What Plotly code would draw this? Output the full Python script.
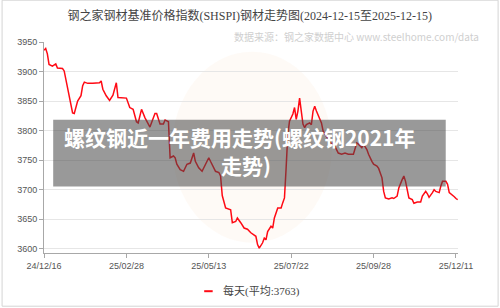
import plotly.graph_objects as go

# ---------------- data ----------------
# trading-day index (0 = 24/12/16) and daily price index values
trading_day = [0, 1, 2, 3, 5, 7, 8, 11, 12, 14, 16, 17, 18, 19, 20, 22, 23, 24, 26, 29,
               33, 34, 35, 37, 39, 41, 43, 44, 46, 49, 51, 53, 55, 56, 58, 60, 63, 66, 67, 69,
               71, 72, 74, 75, 77, 78, 79, 81, 83, 84, 85, 87, 89, 90, 91, 92, 94, 96, 98, 99,
               100, 102, 104, 105, 106, 108, 111, 112, 114, 115, 117, 119, 121, 123, 126, 127, 128, 130, 131, 132,
               133, 135, 136, 137, 139, 141, 142, 143, 144, 145, 146, 148, 149, 150, 151, 152, 153, 154, 155, 156,
               158, 159, 160, 161, 162, 164, 165, 166, 168, 169, 171, 172, 175, 177, 179, 181, 184, 186, 187, 189,
               190, 192, 193, 195, 196, 198, 199, 201, 202, 203, 205, 207, 208, 210, 211, 213, 214, 215, 216, 217,
               219, 220, 222, 224, 225, 227, 228, 229, 231, 232, 233, 235, 236, 237, 239, 240, 241, 242, 244, 245,
               246]
price = [3936, 3939, 3930, 3912, 3909, 3913, 3906, 3905, 3901, 3873, 3845, 3830, 3829, 3841, 3850, 3859, 3876, 3882, 3880, 3880,
         3881, 3884, 3870, 3859, 3851, 3860, 3881, 3856, 3856, 3855, 3839, 3836, 3815, 3813, 3836, 3822, 3806, 3829, 3829, 3811,
         3811, 3818, 3815, 3754, 3757, 3754, 3743, 3734, 3731, 3737, 3743, 3745, 3762, 3748, 3743, 3737, 3731, 3743, 3754, 3748,
         3743, 3731, 3729, 3723, 3690, 3669, 3666, 3644, 3646, 3652, 3644, 3635, 3633, 3627, 3621, 3607, 3601, 3610, 3618, 3615,
         3629, 3638, 3635, 3652, 3669, 3669, 3678, 3686, 3737, 3794, 3816, 3828, 3839, 3819, 3833, 3855, 3833, 3811, 3805, 3810,
         3813, 3810, 3833, 3841, 3833, 3819, 3813, 3799, 3791, 3785, 3777, 3779, 3762, 3760, 3762, 3760, 3760, 3779, 3777, 3771,
         3777, 3768, 3760, 3748, 3743, 3740, 3736, 3720, 3697, 3686, 3684, 3686, 3685, 3689, 3703, 3717, 3723, 3714, 3700, 3686,
         3683, 3677, 3679, 3679, 3689, 3697, 3693, 3687, 3695, 3700, 3697, 3695, 3706, 3714, 3714, 3709, 3695, 3693, 3688, 3685,
         3683]

tick_days = [0, 49, 98, 147, 196, 245]
tick_labels = ["24/12/16", "25/02/28", "25/05/13", "25/07/22", "25/09/28", "25/12/11"]
y_ticks = [3600, 3650, 3700, 3750, 3800, 3850, 3900, 3950]

series_name = "每天(平均:3763)"
chart_title = "钢之家钢材基准价格指数(SHSPI)钢材走势图(2024-12-15至2025-12-15)"
source_text = "数据来源：钢之家数据中心 www.steelhome.com/data"
banner_line1 = "螺纹钢近一年费用走势(螺纹钢2021年"
banner_line2 = "走势)"

# ---------------- layout helpers ----------------
W, H = 500, 308
L, R, T, B = 43.5, 41.7, 42.3, 54.7
pw = W - L - R
ph = H - T - B


def px(x):
    return (x - L) / pw


def py(y):
    return (H - B - y) / ph


serif = "Liberation Serif, Noto Sans CJK SC, serif"
sans = "Liberation Sans, Arial, sans-serif"
cjk_bold = "Noto Sans CJK SC, sans-serif"

fig = go.Figure()
fig.add_trace(go.Scatter(
    x=trading_day, y=price, mode="lines", name=series_name,
    line=dict(color="rgb(255,10,20)", width=1.5), showlegend=False,
    hoverinfo="skip",
))

fig.update_layout(
    width=W, height=H,
    margin=dict(l=L, r=R, t=T, b=B, pad=0),
    paper_bgcolor="white", plot_bgcolor="rgba(0,0,0,0)",
    title=dict(text=chart_title, x=0.497, xanchor="center", xref="paper",
               y=1 - 15.7 / H, yanchor="middle", yref="container",
               font=dict(family=serif, size=12, color="#444")),
    xaxis=dict(range=[0, 246.2], tickmode="array", tickvals=tick_days, ticktext=tick_labels,
               showgrid=False, zeroline=False, showline=True, linecolor="#a8a8a8", linewidth=1,
               ticks="outside", ticklen=4, tickcolor="#a8a8a8",
               tickfont=dict(family=sans, size=9, color="#555")),
    yaxis=dict(range=[3592.7, 3950], tickmode="array", tickvals=y_ticks,
               showgrid=True, gridcolor="#e6e6e6", gridwidth=1, zeroline=False,
               showline=True, linecolor="#a8a8a8", linewidth=1,
               ticks="outside", ticklen=4, tickcolor="#a8a8a8",
               tickfont=dict(family=sans, size=9, color="#555")),
    font=dict(family=sans),
)

shapes = [
    # faint watermark logo
    dict(type="circle", xref="paper", yref="paper", layer="below",
         x0=px(172), x1=px(332), y0=py(243), y1=py(52),
         fillcolor="rgba(248,205,165,0.10)", line=dict(width=0)),
    # outer frame
    dict(type="rect", xref="paper", yref="paper", layer="above",
         x0=px(1.5), x1=px(498.5), y0=py(306.5), y1=py(0.5),
         line=dict(color="#d4d4d4", width=1), fillcolor="rgba(0,0,0,0)"),
    # overlay banner
    dict(type="rect", xref="paper", yref="paper", layer="above",
         x0=px(52.7), x1=px(446), y0=py(186.7), y1=py(120),
         fillcolor="rgba(70,70,70,0.55)", line=dict(width=0)),
    # legend sample line
    dict(type="line", xref="paper", yref="paper", layer="above",
         x0=px(204), x1=px(212.5), y0=py(291.5), y1=py(291.5),
         line=dict(color="rgb(255,10,20)", width=2)),
]

annotations = [
    dict(text=source_text, xref="paper", yref="paper", x=px(481), y=py(36.7),
         xanchor="right", yanchor="middle", showarrow=False,
         font=dict(family="Noto Sans CJK SC, sans-serif", size=10, color="#cfcfcf")),
    dict(text=series_name, xref="paper", yref="paper", x=px(221), y=py(291.3),
         xanchor="left", yanchor="middle", showarrow=False,
         font=dict(family=serif, size=11, color="#444")),
    dict(text="<b>" + banner_line1 + "</b>", xref="paper", yref="paper", x=px(239.5), y=py(137),
         xanchor="center", yanchor="middle", showarrow=False,
         font=dict(family=cjk_bold, size=21, color="white")),
    dict(text="<b>" + banner_line2 + "</b>", xref="paper", yref="paper", x=px(246), y=py(165),
         xanchor="center", yanchor="middle", showarrow=False,
         font=dict(family=cjk_bold, size=21, color="white")),
]

fig.update_layout(shapes=shapes, annotations=annotations)

fig.write_html("out.html")
